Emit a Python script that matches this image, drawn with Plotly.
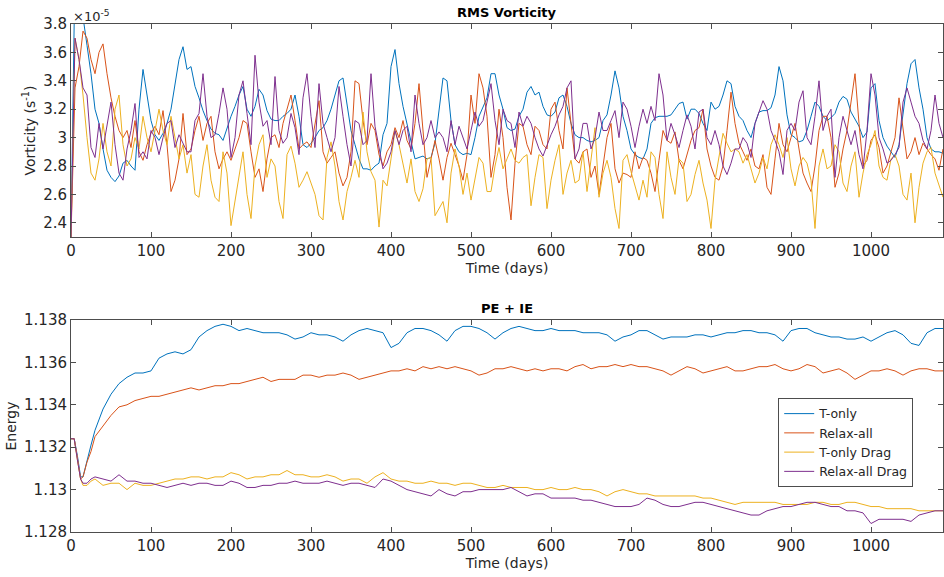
import plotly.graph_objects as go

# ---------------- RMS vorticity (units of 1e-5 s^-1), sampled every 5 days ----------------
vort_days = list(range(0, 1091, 5))

vort_t_only = [2.30, 4.2, 4.0, 3.85, 3.65, 3.45, 3.2, 3.1, 2.92, 2.77, 2.72, 2.69, 2.73, 2.82, 2.84, 2.8, 2.77,
 3.2, 3.48, 3.3, 3.12, 3.02, 2.98, 3.03, 3.1, 3.2, 3.36, 3.55, 3.64, 3.48, 3.5, 3.36, 3.28, 3.19, 3.12, 3.06,
 3.03, 3.02, 2.98, 3.07, 3.15, 3.22, 3.3, 3.36, 3.2, 3.15, 3.22, 3.34, 3.3, 3.19, 3.13, 3.12, 3.12, 3.15, 3.17,
 3.2, 3.3, 3.15, 2.95, 2.93, 2.96, 3.0, 3.05, 3.07, 3.12, 3.2, 3.3, 3.4, 3.42, 3.22, 3.05, 2.95, 2.85, 2.78,
 2.78, 2.77, 2.8, 2.82, 3.02, 3.1, 3.5, 3.62, 3.38, 3.22, 3.1, 2.98, 2.85, 2.86, 2.87, 2.85, 2.86, 2.96, 3.18,
 3.42, 3.4, 3.12, 2.95, 2.9, 2.88, 2.89, 2.88, 3.0, 3.15, 3.22, 3.28, 3.45, 3.45, 3.3, 3.2, 3.07, 3.05, 3.06,
 3.15, 3.2, 3.32, 3.36, 3.3, 3.32, 3.22, 3.16, 3.15, 3.18, 3.28, 3.3, 3.22, 3.1, 3.02, 3.0, 3.0, 2.98, 2.97,
 2.98, 3.0, 3.12, 3.16, 3.3, 3.47, 3.35, 3.15, 3.05, 2.92, 2.88, 2.86, 2.85, 2.92, 3.1, 3.14, 3.15, 3.15, 3.15,
 3.16, 3.2, 3.24, 3.25, 3.13, 3.2, 3.2, 3.17, 3.1, 3.05, 3.25, 3.2, 3.22, 3.3, 3.4, 3.38, 3.22, 3.15, 3.12,
 3.05, 3.0, 3.1, 3.18, 3.19, 3.19, 3.21, 3.3, 3.5, 3.4, 3.16, 3.02, 3.0, 2.97, 2.98, 3.05, 3.15, 3.25, 3.22,
 3.15, 3.12, 3.14, 3.17, 3.25, 3.29, 3.27, 3.18, 3.13, 3.08, 3.0, 3.04, 3.35, 3.38, 3.12, 3.0, 2.94, 2.9,
 2.86, 2.95, 3.15, 3.38, 3.52, 3.55, 3.35, 3.2, 3.0, 2.92, 2.9, 2.9, 2.89]

vort_relax_all = [2.3, 3.35, 3.5, 3.75, 3.7, 3.55, 3.45, 3.6, 3.66, 3.45, 3.28, 3.15, 3.05, 3.0, 3.05, 2.93,
 3.12, 2.9, 2.84, 2.95, 3.03, 3.08, 3.02, 3.19, 2.95, 2.62, 2.7, 2.85, 3.17, 2.88, 2.92, 3.05, 3.15, 2.98, 3.1,
 3.15, 2.9, 2.78, 2.85, 2.9, 2.84, 2.92, 3.0, 3.12, 3.1, 2.9, 2.72, 2.78, 2.62, 2.85, 3.0, 3.02, 2.93, 3.1, 3.2,
 3.3, 3.12, 2.92, 2.95, 2.97, 2.93, 3.1, 3.26, 2.9, 2.82, 2.86, 2.9, 2.75, 2.66, 2.72, 2.9, 3.4, 3.38, 3.12,
 2.95, 3.1, 3.05, 2.88, 2.8, 2.9, 2.95, 3.07, 3.0, 3.12, 2.98, 2.92, 3.1, 3.38, 3.05, 2.72, 2.85, 2.98, 2.85,
 2.7, 2.86, 2.96, 2.88, 2.8, 2.7, 2.88, 3.3, 3.1, 3.45, 3.35, 3.15, 2.72, 2.88, 3.2, 3.0, 2.65, 2.42, 2.82, 3.1,
 3.08, 2.95, 2.88, 3.08, 3.05, 2.95, 2.92, 3.2, 3.25, 3.05, 2.92, 3.35, 3.08, 2.85, 2.82, 2.9, 2.92, 2.72, 2.8,
 2.6, 2.8, 3.0, 3.1, 2.78, 2.68, 2.75, 2.74, 2.72, 2.9, 2.78, 2.86, 2.84, 2.75, 2.62, 2.84, 3.05, 2.98, 2.96,
 3.04, 2.84, 2.78, 2.88, 2.98, 3.05, 3.07, 3.2, 2.92, 2.8, 2.72, 2.7, 2.8, 3.05, 3.32, 3.1, 2.96, 2.9, 2.84,
 2.92, 2.8, 2.78, 2.88, 2.65, 2.6, 2.85, 3.1, 2.95, 2.9, 3.0, 3.1, 2.92, 2.75, 2.68, 2.62, 2.8, 3.05, 3.15,
 3.15, 3.0, 2.65, 2.75, 2.92, 3.05, 3.24, 3.45, 3.1, 2.8, 2.84, 2.98, 3.02, 2.93, 2.75, 2.8, 2.9, 3.0, 3.28,
 3.05, 2.85, 2.9, 3.0, 2.88, 2.96, 2.92, 2.88, 2.85, 2.77, 2.92]

vort_t_only_drag = [2.3, 3.7, 3.55, 3.3, 3.0, 2.75, 2.7, 2.85, 3.1, 2.9, 2.8, 3.2, 3.3, 2.95, 2.8, 2.85, 3.0,
 2.92, 3.15, 3.0, 2.9, 3.05, 3.2, 3.05, 2.95, 3.15, 3.0, 2.85, 2.95, 2.75, 2.88, 2.6, 2.58, 2.8, 2.95, 2.7,
 2.58, 2.55, 2.9, 2.75, 2.38, 2.55, 2.72, 2.9, 2.6, 2.43, 2.8, 2.95, 3.02, 2.72, 2.85, 2.8, 2.55, 2.43, 2.88,
 2.94, 2.82, 2.65, 2.7, 2.76, 2.68, 2.6, 2.45, 2.42, 2.86, 2.97, 2.8, 2.55, 2.42, 2.62, 2.72, 2.84, 2.72, 3.18,
 2.9, 2.76, 2.7, 2.37, 2.7, 2.66, 2.85, 3.05, 2.95, 2.82, 2.68, 2.85, 2.62, 2.55, 2.64, 2.85, 2.86, 2.45, 2.5,
 2.55, 2.4, 2.75, 2.92, 2.8, 2.6, 2.75, 2.56, 2.7, 2.86, 2.82, 2.62, 2.62, 2.8, 2.93, 2.78, 2.85, 2.92, 2.84,
 2.82, 2.86, 2.88, 2.52, 2.72, 2.88, 2.86, 2.5, 2.7, 2.84, 2.95, 2.6, 2.75, 2.84, 2.68, 2.7, 2.9, 2.62, 2.85,
 3.07, 2.58, 2.75, 2.84, 2.72, 2.5, 2.36, 2.84, 2.88, 2.76, 2.66, 2.56, 2.7, 2.58, 2.9, 2.86, 2.6, 2.43, 2.9,
 2.72, 2.6, 2.85, 2.82, 2.55, 2.6, 2.74, 2.84, 2.68, 2.56, 2.36, 2.7, 2.86, 3.03, 2.96, 2.9, 2.92, 2.9, 2.82,
 2.88, 2.78, 2.68, 2.75, 2.86, 2.78, 2.95, 3.02, 2.95, 2.86, 3.0, 2.78, 2.66, 2.8, 2.86, 2.82, 2.7, 2.36, 2.8,
 2.92, 2.78, 2.8, 2.95, 2.9, 2.68, 2.62, 2.8, 2.9, 2.58, 2.75, 2.88, 2.95, 3.05, 2.8, 2.72, 2.7, 2.85, 2.88,
 2.8, 2.6, 2.56, 2.75, 2.4, 2.65, 2.82, 2.9, 2.93, 2.75, 2.66, 2.58]

vort_relax_all_drag = [2.3, 3.7, 3.55, 3.35, 3.3, 2.93, 2.86, 3.1, 2.92, 3.1, 3.25, 2.95, 2.75, 2.7, 2.92,
 3.05, 3.24, 2.86, 2.9, 2.85, 3.05, 3.0, 2.88, 3.0, 3.1, 3.12, 2.93, 3.02, 2.96, 2.9, 2.9, 3.12, 3.17, 3.45,
 3.15, 3.0, 3.02, 3.17, 3.35, 3.2, 2.86, 3.0, 3.3, 3.4, 3.17, 2.95, 3.58, 3.25, 3.08, 3.12, 2.95, 3.43, 3.05,
 2.96, 3.0, 3.17, 3.07, 2.88, 3.28, 3.45, 3.15, 2.93, 3.38, 3.1, 3.0, 2.9, 3.0, 3.36, 3.15, 2.95, 2.8, 3.12,
 3.1, 2.95, 2.98, 3.45, 3.08, 2.93, 2.78, 2.82, 2.9, 3.05, 2.95, 3.05, 3.08, 2.9, 3.3, 3.1, 2.95, 3.0, 3.12,
 3.0, 3.04, 3.0, 2.9, 3.12, 2.95, 3.08, 3.0, 2.92, 3.05, 3.18, 3.08, 3.12, 3.25, 3.38, 3.12, 2.95, 3.2, 3.12,
 3.1, 2.93, 3.18, 3.08, 3.15, 3.1, 3.0, 2.92, 2.87, 2.95, 3.02, 3.08, 3.16, 3.22, 3.35, 3.4, 2.85, 2.92, 3.1,
 3.1, 2.92, 3.0, 3.18, 3.05, 3.05, 3.12, 3.19, 3.0, 3.25, 3.2, 3.08, 2.93, 3.08, 3.2, 3.1, 3.22, 3.12, 3.45,
 3.3, 2.98, 3.1, 3.02, 2.93, 3.05, 3.16, 3.08, 2.92, 3.18, 3.2, 3.0, 2.95, 3.05, 2.95, 2.8, 2.74, 2.82, 2.92,
 2.92, 3.0, 2.96, 2.86, 3.1, 3.18, 3.26, 3.2, 3.05, 2.98, 2.9, 2.74, 3.05, 3.1, 3.05, 3.25, 3.33, 3.0, 2.95,
 3.15, 3.4, 3.05, 3.15, 3.2, 2.72, 3.0, 3.15, 3.05, 2.95, 3.05, 2.88, 2.78, 3.05, 3.45, 3.3, 3.0, 2.92, 2.82,
 2.84, 2.88, 2.93, 3.25, 3.35, 3.25, 3.15, 3.1, 2.98, 2.92, 3.05, 3.3, 3.1, 3.0]

# ---------------- PE + IE energy ----------------
energy_days = [0, 4, 8, 12, 15, 20, 25, 30] + list(range(40, 1091, 10))

energy_t_only = [1.1324, 1.1324, 1.1316, 1.1306, 1.1306, 1.1314, 1.1321, 1.1328, 1.1338, 1.1345, 1.1350,
 1.1353, 1.1355, 1.1355, 1.1356, 1.1362, 1.1364, 1.1365, 1.1364, 1.1366, 1.1372, 1.1375, 1.1377, 1.1378,
 1.1377, 1.1375, 1.1376, 1.1375, 1.1374, 1.1374, 1.1374, 1.1373, 1.1371, 1.1372, 1.1374, 1.1373, 1.1373,
 1.1372, 1.1370, 1.1373, 1.1375, 1.1376, 1.1375, 1.1374, 1.1367, 1.1369, 1.1374, 1.1376, 1.1376, 1.1375,
 1.1373, 1.1370, 1.1375, 1.1377, 1.1377, 1.1376, 1.1374, 1.1371, 1.1374, 1.1376, 1.1377, 1.1376, 1.1375,
 1.1375, 1.1376, 1.1375, 1.1375, 1.1375, 1.1374, 1.1374, 1.1374, 1.1373, 1.1370, 1.1372, 1.1373, 1.1375,
 1.1375, 1.1373, 1.1371, 1.1372, 1.1372, 1.1372, 1.1373, 1.1373, 1.1372, 1.1373, 1.1374, 1.1374, 1.1375,
 1.1375, 1.1374, 1.1374, 1.1373, 1.1370, 1.1375, 1.1376, 1.1376, 1.1374, 1.1373, 1.1372, 1.1372, 1.1371,
 1.1371, 1.1372, 1.1370, 1.1372, 1.1374, 1.1375, 1.1373, 1.1369, 1.1368, 1.1374, 1.1376, 1.1376]

energy_relax_all = [1.1324, 1.1324, 1.1315, 1.1305, 1.1306, 1.1313, 1.1318, 1.1325, 1.1330, 1.1335, 1.1339,
 1.1340, 1.1342, 1.1343, 1.1344, 1.1344, 1.1345, 1.1346, 1.1347, 1.1348, 1.1347, 1.1348, 1.1349, 1.1349,
 1.1350, 1.1350, 1.1351, 1.1352, 1.1353, 1.1351, 1.1352, 1.1352, 1.1352, 1.1354, 1.1354, 1.1353, 1.1354,
 1.1354, 1.1355, 1.1354, 1.1352, 1.1353, 1.1354, 1.1355, 1.1356, 1.1356, 1.1357, 1.1356, 1.1358, 1.1357,
 1.1358, 1.1357, 1.1358, 1.1357, 1.1356, 1.1354, 1.1355, 1.1357, 1.1357, 1.1358, 1.1357, 1.1356, 1.1357,
 1.1356, 1.1357, 1.1357, 1.1356, 1.1358, 1.1359, 1.1357, 1.1358, 1.1358, 1.1359, 1.1358, 1.1359, 1.1358,
 1.1358, 1.1357, 1.1356, 1.1354, 1.1356, 1.1358, 1.1357, 1.1355, 1.1356, 1.1357, 1.1358, 1.1356, 1.1356,
 1.1357, 1.1358, 1.1358, 1.1359, 1.1357, 1.1356, 1.1357, 1.1359, 1.1358, 1.1355, 1.1356, 1.1357, 1.1355,
 1.1352, 1.1354, 1.1356, 1.1356, 1.1357, 1.1356, 1.1354, 1.1356, 1.1357, 1.1357, 1.1356, 1.1356]

energy_t_only_drag = [1.1324, 1.1324, 1.1314, 1.1305, 1.1302, 1.1302, 1.1304, 1.1305, 1.1302, 1.1303, 1.1303,
 1.1300, 1.1303, 1.1302, 1.1302, 1.1303, 1.1304, 1.1305, 1.1305, 1.1306, 1.1306, 1.1305, 1.1306, 1.1306,
 1.1308, 1.1307, 1.1305, 1.1306, 1.1306, 1.1307, 1.1307, 1.1309, 1.1307, 1.1307, 1.1306, 1.1306, 1.1307,
 1.1306, 1.1304, 1.1305, 1.1305, 1.1303, 1.1306, 1.1308, 1.1305, 1.1304, 1.1304, 1.1303, 1.1303, 1.1304,
 1.1303, 1.1303, 1.1302, 1.1303, 1.1303, 1.1302, 1.1301, 1.1301, 1.1302, 1.1301, 1.1301, 1.1301, 1.1300,
 1.1300, 1.1301, 1.1300, 1.1300, 1.1301, 1.1300, 1.1300, 1.1299, 1.1297, 1.1299, 1.1300, 1.1299, 1.1298,
 1.1298, 1.1297, 1.1297, 1.1297, 1.1297, 1.1297, 1.1297, 1.1296, 1.1296, 1.1295, 1.1294, 1.1293, 1.1294,
 1.1294, 1.1294, 1.1294, 1.1294, 1.1293, 1.1293, 1.1293, 1.1293, 1.1294, 1.1294, 1.1293, 1.1293, 1.1294,
 1.1294, 1.1293, 1.1292, 1.1292, 1.1291, 1.1291, 1.1291, 1.1291, 1.1290, 1.1290, 1.1290, 1.1290]

energy_relax_all_drag = [1.1324, 1.1324, 1.1314, 1.1305, 1.1303, 1.1303, 1.1305, 1.1306, 1.1305, 1.1304,
 1.1307, 1.1304, 1.1304, 1.1303, 1.1303, 1.1302, 1.1301, 1.1302, 1.1303, 1.1302, 1.1303, 1.1303, 1.1302,
 1.1302, 1.1304, 1.1303, 1.1301, 1.1301, 1.1302, 1.1302, 1.1303, 1.1303, 1.1304, 1.1303, 1.1303, 1.1303,
 1.1304, 1.1303, 1.1302, 1.1303, 1.1303, 1.1302, 1.1301, 1.1305, 1.1304, 1.1302, 1.1300, 1.1299, 1.1298,
 1.1297, 1.1300, 1.1298, 1.1297, 1.1299, 1.1299, 1.1300, 1.1300, 1.1300, 1.1300, 1.1301, 1.1299, 1.1297,
 1.1298, 1.1298, 1.1296, 1.1296, 1.1296, 1.1296, 1.1295, 1.1295, 1.1294, 1.1293, 1.1292, 1.1292, 1.1292,
 1.1293, 1.1296, 1.1295, 1.1293, 1.1292, 1.1292, 1.1293, 1.1294, 1.1294, 1.1293, 1.1292, 1.1291, 1.1290,
 1.1289, 1.1288, 1.1288, 1.1290, 1.1291, 1.1292, 1.1292, 1.1293, 1.1294, 1.1294, 1.1293, 1.1292, 1.1292,
 1.1290, 1.1290, 1.1289, 1.1284, 1.1286, 1.1286, 1.1286, 1.1286, 1.1285, 1.1288, 1.1289, 1.1290, 1.1290]

series_names = ["T-only", "Relax-all", "T-only Drag", "Relax-all Drag"]
colors = ["#0072BD", "#D95319", "#EDB120", "#7E2F8E"]

x_ticks = [0, 100, 200, 300, 400, 500, 600, 700, 800, 900, 1000]
vort_ticks = [2.4, 2.6, 2.8, 3.0, 3.2, 3.4, 3.6, 3.8]
vort_ticktext = ["2.4", "2.6", "2.8", "3", "3.2", "3.4", "3.6", "3.8"]
energy_ticks = [1.128, 1.130, 1.132, 1.134, 1.136, 1.138]
energy_ticktext = ["1.128", "1.13", "1.132", "1.134", "1.136", "1.138"]

FONT = "DejaVu Sans"
TXT = "#262626"
AX = "#4d4d4d"

fig = go.Figure()
vort_series = [vort_t_only, vort_relax_all, vort_t_only_drag, vort_relax_all_drag]
energy_series = [energy_t_only, energy_relax_all, energy_t_only_drag, energy_relax_all_drag]

for name, col, ys in zip(series_names, colors, vort_series):
    fig.add_trace(go.Scatter(x=vort_days, y=ys, mode="lines", name=name, showlegend=False,
                             line=dict(color=col, width=1), xaxis="x", yaxis="y"))
for name, col, ys in zip(series_names, colors, energy_series):
    fig.add_trace(go.Scatter(x=energy_days, y=ys, mode="lines", name=name, showlegend=True,
                             line=dict(color=col, width=1), xaxis="x2", yaxis="y2"))

axis_common = dict(showline=True, linecolor=AX, linewidth=1, mirror="ticks", ticks="inside",
                   ticklen=5, tickcolor=AX, showgrid=False, zeroline=False,
                   tickfont=dict(family=FONT, size=15, color=TXT))

fig.update_layout(
    width=944, height=577,
    margin=dict(l=71, r=1, t=24, b=45),
    paper_bgcolor="white", plot_bgcolor="white",
    font=dict(family=FONT, size=13, color=TXT),
    xaxis=dict(domain=[0, 1], anchor="y", range=[0, 1090], tickvals=x_ticks,
               title=dict(text="Time (days)", standoff=0, font=dict(family=FONT, size=14, color=TXT)),
               **axis_common),
    yaxis=dict(domain=[0.5807, 1], anchor="x", range=[2.3, 3.8], tickvals=vort_ticks, ticktext=vort_ticktext,
               title=dict(text="Vorticity (s<sup>-1</sup>)", standoff=4, font=dict(family=FONT, size=14, color=TXT)),
               **axis_common),
    xaxis2=dict(domain=[0, 1], anchor="y2", range=[0, 1090], tickvals=x_ticks,
                title=dict(text="Time (days)", standoff=0, font=dict(family=FONT, size=14, color=TXT)),
                **axis_common),
    yaxis2=dict(domain=[0, 0.4173], anchor="x2", range=[1.128, 1.138], tickvals=energy_ticks,
                ticktext=energy_ticktext,
                title=dict(text="Energy", standoff=4, font=dict(family=FONT, size=14, color=TXT)),
                **axis_common),
    legend=dict(x=0.811, y=0.2638, xanchor="left", yanchor="top", bgcolor="white",
                bordercolor=AX, borderwidth=1, font=dict(family=FONT, size=12.5, color=TXT),
                tracegroupgap=0, itemwidth=30),
    annotations=[
        dict(text="<b>RMS Vorticity</b>", xref="paper", yref="paper", x=0.5, y=1, yanchor="bottom",
             yshift=2, showarrow=False, font=dict(family=FONT, size=13, color="black")),
        dict(text="<b>PE + IE</b>", xref="paper", yref="paper", x=0.5, y=0.4173, yanchor="bottom",
             yshift=2, showarrow=False, font=dict(family=FONT, size=13, color="black")),
        dict(text="×10<sup>-5</sup>", xref="paper", yref="paper", x=0, y=1, xanchor="left",
             yanchor="bottom", yshift=-2, showarrow=False, font=dict(family=FONT, size=13, color=TXT)),
    ],
)

fig.write_html("out.html")
